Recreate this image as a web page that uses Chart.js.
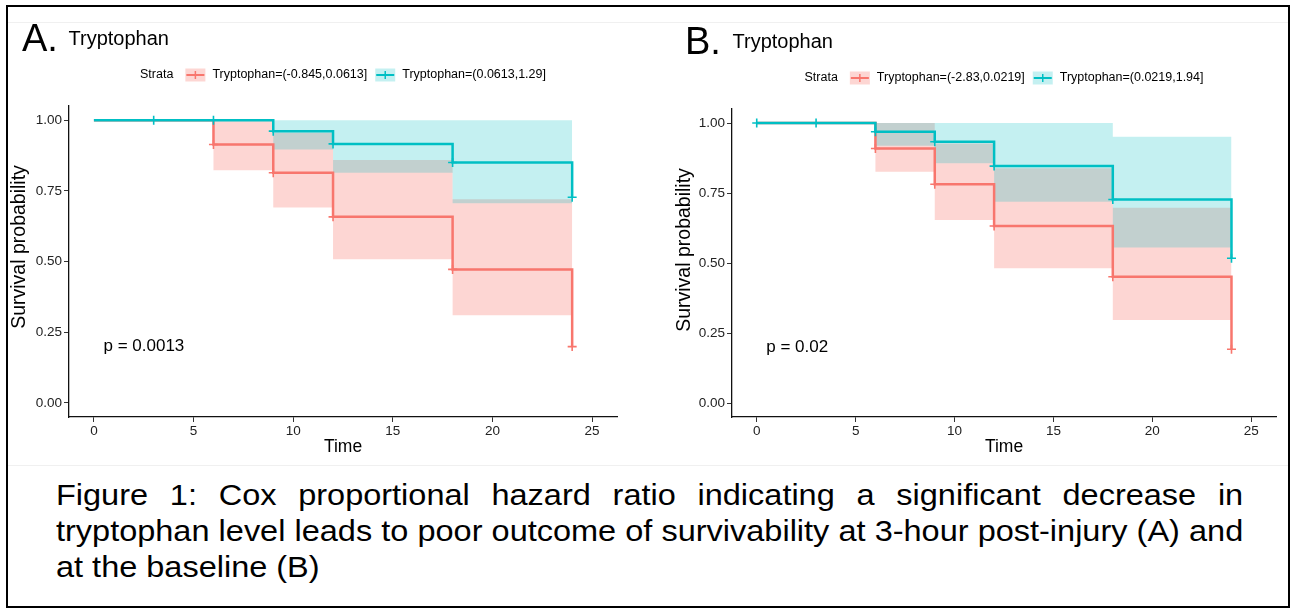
<!DOCTYPE html>
<html><head><meta charset="utf-8">
<script src="https://cdn.jsdelivr.net/npm/chart.js@4/dist/chart.umd.min.js"></script>
<style>
html,body{margin:0;padding:0;background:#fff;}
body{width:1295px;height:611px;position:relative;overflow:hidden;font-family:"Liberation Sans",Arial,Helvetica,sans-serif;}
#frame{position:absolute;left:6px;top:5px;width:1280px;height:599px;border:2px solid #000;pointer-events:none;}
canvas{position:absolute;top:0;}
.cap{position:absolute;left:56px;width:1060px;font-size:29px;line-height:37px;color:#000;white-space:nowrap;transform:scaleX(1.12);transform-origin:0 0;}
.j{text-align:justify;text-align-last:justify;}
.sep{position:absolute;background:#f0f0f0;height:1px;}
</style></head>
<body>
<div class="sep" style="left:8px;top:22px;width:1280px"></div>
<div class="sep" style="left:8px;top:465px;width:1280px"></div>
<canvas id="ca" width="650" height="465" style="left:0px"></canvas>
<canvas id="cb" width="640" height="465" style="left:655px"></canvas>
<div class="cap j" style="top:477px">Figure 1: Cox proportional hazard ratio indicating a significant decrease in</div>
<div class="cap j" style="top:513px">tryptophan level leads to poor outcome of survivability at 3-hour post-injury (A) and</div>
<div class="cap" style="top:549px">at the baseline (B)</div>
<div id="frame"></div>
<script>
// ---------- data ----------
const xTicks = [0, 5, 10, 15, 20, 25];
const yTicks = [0, 0.25, 0.5, 0.75, 1];
const stepTimes = [0, 6, 9, 12, 18, 24];

// Panel A (3-hour post-injury)
const aRedSurv   = [1, 0.914, 0.814, 0.658, 0.472, 0.199];
const aRedUpper  = [1, 1, 0.955, 0.859, 0.72];
const aRedLower  = [1, 0.823, 0.691, 0.508, 0.31];
const aRedCensor = [6, 9, 12, 18, 24];
const aTealSurv   = [1, 1, 0.961, 0.916, 0.85, 0.727];
const aTealUpper  = [1, 1, 1, 1, 1];
const aTealLower  = [1, 1, 0.896, 0.814, 0.706];
const aTealCensor = [3, 6, 9, 12, 18, 24];
const aLabels = ['Tryptophan=(-0.845,0.0613]', 'Tryptophan=(0.0613,1.29]'];
const aPValue = 'p = 0.0013';

// Panel B (baseline)
const bRedSurv   = [1, 0.909, 0.781, 0.632, 0.451, 0.192];
const bRedUpper  = [1, 1, 0.927, 0.838, 0.697];
const bRedLower  = [1, 0.826, 0.654, 0.481, 0.296];
const bRedCensor = [6, 9, 12, 18, 24];
const bTealSurv   = [1, 0.969, 0.933, 0.846, 0.727, 0.517];
const bTealUpper  = [1, 1, 1, 1, 0.951];
const bTealLower  = [1, 0.919, 0.856, 0.719, 0.555];
const bTealCensor = [0, 3, 6, 9, 12, 18, 24];
const bLabels = ['Tryptophan=(-2.83,0.0219]', 'Tryptophan=(0.0219,1.94]'];
const bPValue = 'p = 0.02';

const pvalCoord = [0.48, 0.2];

// ---------- style ----------
const RED = '#F8766D', TEAL = '#00BFC4';
const RED_FILL = 'rgba(248,118,109,0.30)', TEAL_FILL = 'rgba(0,191,196,0.23)';
const FONT = '"Liberation Sans", Arial, Helvetica, sans-serif';

function stepPts(times, vals){ return vals.map((v,i)=>({x:times[i], y:v})); }
function bandPts(times, vals){
  const p = vals.map((v,i)=>({x:times[i], y:v}));
  p.push({x:times[vals.length], y:vals[vals.length-1]});
  return p;
}
function censorPts(times, surv, cts){
  return cts.map(c=>{ let i=0; for(let k=0;k<times.length;k++) if(times[k]<=c) i=k; return {x:c, y:surv[i]}; });
}

const decor = {
  id:'decor',
  afterDraw(chart, args, o){
    const ctx = chart.ctx, ca = chart.chartArea;
    ctx.save();
    ctx.fillStyle = '#000';
    ctx.textAlign = 'left';
    ctx.textBaseline = 'alphabetic';
    ctx.font = '38px ' + FONT;
    ctx.fillText(o.letter, o.letterX, o.letterY);
    ctx.font = '20px ' + FONT;
    ctx.fillText(o.title, o.titleX, o.titleY);
    // y axis title
    ctx.save();
    ctx.translate(o.yTitleX, o.yTitleY);
    ctx.rotate(-Math.PI/2);
    ctx.textAlign = 'center';
    ctx.textBaseline = 'middle';
    ctx.font = '19.5px ' + FONT;
    ctx.fillText('Survival probability', 0, 0);
    ctx.restore();
    // legend
    ctx.font = '12.5px ' + FONT;
    ctx.textBaseline = 'middle';
    const box = 20, bh = 13, g1 = 12, g2 = 7, g3 = 8;
    const wS = ctx.measureText('Strata').width;
    const w1 = ctx.measureText(o.labels[0]).width;
    const w2 = ctx.measureText(o.labels[1]).width;
    const total = wS + g1 + box + g2 + w1 + g3 + box + g2 + w2;
    let x = (ca.left + ca.right)/2 - total/2;
    const cy = o.legendY;
    const key = (x0, fill, col)=>{
      ctx.fillStyle = fill; ctx.fillRect(x0, cy - bh/2, box, bh);
      ctx.strokeStyle = col; ctx.lineWidth = 2;
      ctx.beginPath(); ctx.moveTo(x0+1, cy); ctx.lineTo(x0+box-1, cy); ctx.stroke();
      ctx.lineWidth = 1.5;
      ctx.beginPath(); ctx.moveTo(x0+box/2, cy-4); ctx.lineTo(x0+box/2, cy+4); ctx.stroke();
      ctx.fillStyle = '#000';
    };
    ctx.fillText('Strata', x, cy); x += wS + g1;
    key(x, RED_FILL, RED); x += box + g2;
    ctx.fillText(o.labels[0], x, cy); x += w1 + g3;
    key(x, TEAL_FILL, TEAL); x += box + g2;
    ctx.fillText(o.labels[1], x, cy);
    // p-value
    ctx.font = '17px ' + FONT;
    ctx.textBaseline = 'middle';
    ctx.fillText(o.pText, chart.scales.x.getPixelForValue(o.pAt[0]), chart.scales.y.getPixelForValue(o.pAt[1]));
    ctx.restore();
  }
};

function makeChart(id, d, L){
  const datasets = [
    {data: censorPts(stepTimes, d.tealSurv, d.tealCensor), showLine:false, pointStyle:'cross', pointRadius:4.5, pointBorderColor:TEAL, pointBorderWidth:1.6, order:0},
    {data: censorPts(stepTimes, d.redSurv, d.redCensor), showLine:false, pointStyle:'cross', pointRadius:4.5, pointBorderColor:RED, pointBorderWidth:1.6, order:1},
    {data: stepPts(stepTimes, d.tealSurv), stepped:true, borderColor:TEAL, borderWidth:2.5, pointRadius:0, fill:false, order:2},
    {data: stepPts(stepTimes, d.redSurv), stepped:true, borderColor:RED, borderWidth:2.5, pointRadius:0, fill:false, order:3},
    {data: bandPts(stepTimes, d.tealUpper), stepped:true, borderWidth:0, borderColor:'rgba(0,0,0,0)', pointRadius:0, fill:false, order:4},
    {data: bandPts(stepTimes, d.tealLower), stepped:true, borderWidth:0, borderColor:'rgba(0,0,0,0)', pointRadius:0, fill:4, backgroundColor:TEAL_FILL, order:4},
    {data: bandPts(stepTimes, d.redUpper), stepped:true, borderWidth:0, borderColor:'rgba(0,0,0,0)', pointRadius:0, fill:false, order:5},
    {data: bandPts(stepTimes, d.redLower), stepped:true, borderWidth:0, borderColor:'rgba(0,0,0,0)', pointRadius:0, fill:6, backgroundColor:RED_FILL, order:5}
  ];
  const tickFont = {family: FONT, size: 13.5};
  return new Chart(document.getElementById(id), {
    type:'line',
    data:{datasets},
    plugins:[decor],
    options:{
      responsive:false, animation:false, events:[],
      layout:{padding:{left:0, top:L.top, right:L.right, bottom:0}},
      plugins:{
        legend:{display:false}, tooltip:{enabled:false},
        decor:{letter:L.letter, letterX:L.letterX, letterY:L.letterY, title:'Tryptophan', titleX:L.titleX, titleY:L.titleY,
               yTitleX:L.yTitleX, yTitleY:L.yTitleY,
               labels:d.labels, legendY:L.legendY, pText:d.pText, pAt:pvalCoord}
      },
      scales:{
        x:{type:'linear', min:-1.25, max:26.25,
           afterBuildTicks:(s)=>{ s.ticks = xTicks.map(v=>({value:v})); },
           afterFit:(s)=>{ s.height = 48; },
           grid:{display:true, drawOnChartArea:false, drawTicks:true, tickLength:5, tickColor:'#333', tickWidth:1},
           border:{display:true, color:'#111', width:1.3},
           ticks:{color:'#222', font:tickFont, padding:1, maxRotation:0, callback:(v)=>String(v)},
           title:{display:true, text:'Time', color:'#000', font:{family:FONT, size:17.5}, padding:{top:0, bottom:7.5}}
        },
        y:{type:'linear', min:-0.05, max:1.05,
           afterBuildTicks:(s)=>{ s.ticks = yTicks.map(v=>({value:v})); },
           afterFit:(s)=>{ s.width = L.yWidth; },
           grid:{display:true, drawOnChartArea:false, drawTicks:true, tickLength:5, tickColor:'#333', tickWidth:1},
           border:{display:true, color:'#111', width:1.3},
           ticks:{color:'#222', font:tickFont, padding:2, callback:(v)=>Number(v).toFixed(2)},
           title:{display:false}
        }
      }
    }
  });
}

makeChart('ca', {
  redSurv:aRedSurv, redUpper:aRedUpper, redLower:aRedLower, redCensor:aRedCensor,
  tealSurv:aTealSurv, tealUpper:aTealUpper, tealLower:aTealLower, tealCensor:aTealCensor,
  labels:aLabels, pText:aPValue
}, {top:106, right:33, yWidth:69, letter:'A.', letterX:22, letterY:51, titleX:68.5, titleY:45, legendY:75, yTitleX:20, yTitleY:247});

makeChart('cb', {
  redSurv:bRedSurv, redUpper:bRedUpper, redLower:bRedLower, redCensor:bRedCensor,
  tealSurv:bTealSurv, tealUpper:bTealUpper, tealLower:bTealLower, tealCensor:bTealCensor,
  labels:bLabels, pText:bPValue
}, {top:109, right:19, yWidth:77, letter:'B.', letterX:30, letterY:54, titleX:77.5, titleY:48, legendY:78, yTitleX:30, yTitleY:250});
</script>
</body></html>
